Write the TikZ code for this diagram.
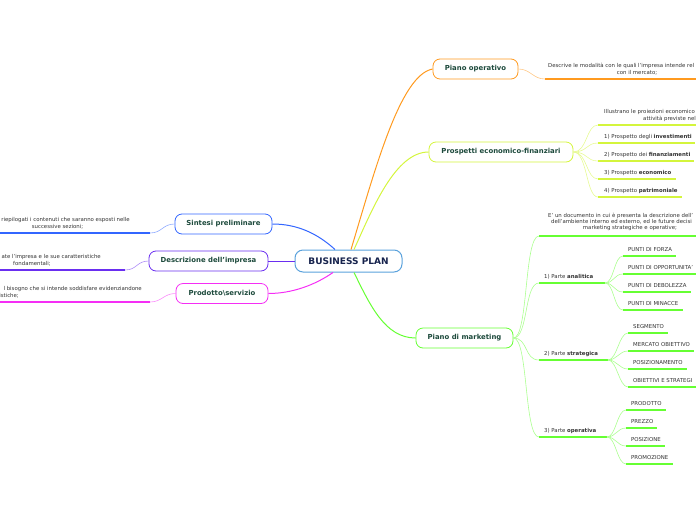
\documentclass[tikz,border=0pt]{standalone}
\usepackage{fontspec}
\setmainfont{DejaVu Sans}
\usetikzlibrary{positioning}
\definecolor{RootLine}{RGB}{90,162,220}
\definecolor{RootText}{RGB}{23,35,77}
\definecolor{TopicText}{RGB}{29,74,60}
\definecolor{LeafText}{RGB}{51,51,51}
\definecolor{OpOrange}{RGB}{255,154,31}
\definecolor{FinYellow}{RGB}{212,245,60}
\definecolor{MktGreen}{RGB}{102,255,51}
\definecolor{SinBlue}{RGB}{51,102,255}
\definecolor{DesPurple}{RGB}{106,46,240}
\definecolor{ProMagenta}{RGB}{245,46,245}

\begin{document}
\begin{tikzpicture}[x=1pt, y=-1pt,
	root/.style={draw=RootLine, line width=1pt, fill=white, rounded corners=8pt, minimum width=107pt, minimum height=22pt, inner sep=0pt, text=RootText, font=\fontsize{9}{10}\selectfont\bfseries},
	topic/.style={draw=#1, line width=0.8pt, fill=white, rounded corners=7pt, minimum height=20pt, inner xsep=6pt, inner ysep=0pt, text=TopicText, font=\fontsize{6.9}{8}\selectfont\bfseries},
	leaf/.style={inner sep=0pt, text=LeafText, font=\fontsize{5.4}{6}\selectfont},
	branch/.style={draw=#1, line width=1pt},
	twig/.style={draw=#1!55, line width=0.6pt},
	uline/.style={draw=#1, line width=1.5pt}
	]
		\useasboundingbox (0,0) rectangle (696,520);
		\clip (0,0) rectangle (696,520);
		
		% nodo centrale
		\node[root] (bp) at (348.5,261) {BUSINESS PLAN};
		
		% rami principali
		\node[topic=OpOrange, minimum width=85pt] (op) at (475.5,69) {Piano operativo};
		\node[topic=FinYellow, minimum width=144pt] (pef) at (501,152) {Prospetti economico-finanziari};
		\node[topic=MktGreen, minimum width=97pt] (pdm) at (464.5,338) {Piano di marketing};
		\node[topic=SinBlue, minimum width=97pt] (sp) at (223.5,224) {Sintesi preliminare};
		\node[topic=DesPurple, minimum width=119pt] (di) at (208.5,261) {Descrizione dell'impresa};
		\node[topic=ProMagenta, minimum width=92pt] (ps) at (222,293.5) {Prodotto\textbackslash servizio};
		
		\draw[branch=OpOrange] ([xshift=2.5pt]bp.north) .. controls (375,170) and (400,75) .. (op.west);
		\draw[branch=FinYellow] ([xshift=5.5pt]bp.north) .. controls (372,210) and (395,152) .. (pef.west);
		\draw[branch=MktGreen] ([xshift=5.5pt]bp.south) .. controls (370,305) and (385,338) .. (pdm.west);
		\draw[branch=SinBlue] ([xshift=-13.5pt]bp.north) .. controls (318,234) and (298,224) .. (sp.east);
		\draw[branch=DesPurple] (bp.west) -- (di.east);
		\draw[branch=ProMagenta] ([xshift=-15.5pt]bp.south) .. controls (315,285) and (292,293.5) .. (ps.east);
		
		% Piano operativo
		\coordinate (opl) at (545,79);
		\coordinate (opr) at (696,79);
		\node[leaf, anchor=base west] (op1) at (548,67) {Descrive le modalità con le quali l'impresa intende rel};
		\node[leaf, anchor=base] (op2) at (637,74) {con il mercato;};
		\draw[twig=OpOrange] (op.east) .. controls +(12,0) and +(-12,0) .. (opl);
		\draw[uline=OpOrange] (opl) -- (opr);
		
		% Prospetti economico-finanziari
		\coordinate (pefl) at (598,125);
		\coordinate (pefr) at (696,125);
		\coordinate (pl1) at (598,143);
		\coordinate (pl2) at (598,161);
		\coordinate (pl3) at (598,179);
		\coordinate (pl4) at (598,197);
		\node[leaf, anchor=base west] (pef1) at (604,113.5) {Illustrano le proiezioni economico};
		\node[leaf, anchor=base west] (pef2) at (643,120.5) {attività previste nel};
		\node[leaf, anchor=base west] (pi1) at (604,138) {1) Prospetto degli \textbf{investimenti}};
		\node[leaf, anchor=base west] (pi2) at (604,156) {2) Prospetto dei \textbf{finanziamenti}};
		\node[leaf, anchor=base west] (pi3) at (604,174) {3) Prospetto \textbf{economico}};
		\node[leaf, anchor=base west] (pi4) at (604,192) {4) Prospetto \textbf{patrimoniale}};
		\draw[twig=FinYellow] (pef.east) .. controls +(14,0) and +(-12,0) .. (pefl);
		\draw[twig=FinYellow] (pef.east) .. controls +(14,0) and +(-12,0) .. (pl1);
		\draw[twig=FinYellow] (pef.east) .. controls +(14,0) and +(-12,0) .. (pl2);
		\draw[twig=FinYellow] (pef.east) .. controls +(14,0) and +(-12,0) .. (pl3);
		\draw[twig=FinYellow] (pef.east) .. controls +(14,0) and +(-12,0) .. (pl4);
		\draw[uline=FinYellow] (pefl) -- (pefr);
		\draw[uline=FinYellow] (pl1) -- (pl1 -| pi1.east) -- ++(3,0);
		\draw[uline=FinYellow] (pl2) -- (pl2 -| pi2.east) -- ++(3,0);
		\draw[uline=FinYellow] (pl3) -- (pl3 -| pi3.east) -- ++(4,0);
		\draw[uline=FinYellow] (pl4) -- (pl4 -| pi4.east) -- ++(4,0);
		
		% Piano di marketing
		\coordinate (mkl) at (539,236);
		\coordinate (mkr) at (696,236);
		\coordinate (anl) at (539,283);
		\coordinate (anr) at (605,283);
		\coordinate (stl) at (539,360);
		\coordinate (str) at (608,360);
		\coordinate (otl) at (539,437);
		\coordinate (otr) at (607,437);
		\node[leaf, anchor=base west] (mk1) at (548,217.5) {E' un documento in cui è presenta la descrizione dell'};
		\node[leaf, anchor=base west] (mk2) at (551,223.5) {dell'ambiente interno ed esterno, ed le future decisi};
		\node[leaf, anchor=base] (mk3) at (630,229.5) {marketing strategiche e operative;};
		\node[leaf, anchor=base west] (an) at (544,278) {1) Parte \textbf{analitica}};
		\node[leaf, anchor=base west] (st) at (544,355.5) {2) Parte \textbf{strategica}};
		\node[leaf, anchor=base west] (ot) at (544,432.5) {3) Parte \textbf{operativa}};
		\draw[twig=MktGreen] (pdm.east) .. controls +(15,0) and +(-15,0) .. (mkl);
		\draw[twig=MktGreen] (pdm.east) .. controls +(15,0) and +(-15,0) .. (anl);
		\draw[twig=MktGreen] (pdm.east) .. controls +(15,0) and +(-15,0) .. (stl);
		\draw[twig=MktGreen] (pdm.east) .. controls +(15,0) and +(-15,0) .. (otl);
		\draw[uline=MktGreen] (mkl) -- (mkr);
		\draw[uline=MktGreen] (anl) -- (anr);
		\draw[uline=MktGreen] (stl) -- (str);
		\draw[uline=MktGreen] (otl) -- (otr);
		
		% parte analitica
		\coordinate (a1) at (623,256);
		\coordinate (a2) at (623,274);
		\coordinate (a3) at (623,292);
		\coordinate (a4) at (623,310);
		\node[leaf, anchor=base west] (pf) at (628,251) {PUNTI DI FORZA};
		\node[leaf, anchor=base west] (po) at (628,269) {PUNTI DI OPPORTUNITA'};
		\node[leaf, anchor=base west] (pd) at (628,287) {PUNTI DI DEBOLEZZA};
		\node[leaf, anchor=base west] (pm) at (628,305) {PUNTI DI MINACCE};
		\draw[twig=MktGreen] (anr) .. controls +(9,0) and +(-9,0) .. (a1);
		\draw[twig=MktGreen] (anr) .. controls +(9,0) and +(-9,0) .. (a2);
		\draw[twig=MktGreen] (anr) .. controls +(9,0) and +(-9,0) .. (a3);
		\draw[twig=MktGreen] (anr) .. controls +(9,0) and +(-9,0) .. (a4);
		\draw[uline=MktGreen] (a1) -- (a1 -| pf.east) -- ++(4,0);
		\draw[uline=MktGreen] (a2) -- (a2 -| po.east) -- ++(4,0);
		\draw[uline=MktGreen] (a3) -- (a3 -| pd.east) -- ++(4,0);
		\draw[uline=MktGreen] (a4) -- (a4 -| pm.east) -- ++(4,0);
		
		% parte strategica
		\coordinate (s1) at (628,333);
		\coordinate (s2) at (628,351);
		\coordinate (s3) at (628,369);
		\coordinate (s4) at (628,387);
		\node[leaf, anchor=base west] (seg) at (633,328) {SEGMENTO};
		\node[leaf, anchor=base west] (mob) at (633,346) {MERCATO OBIETTIVO};
		\node[leaf, anchor=base west] (pos) at (633,364) {POSIZIONAMENTO};
		\node[leaf, anchor=base west] (obs) at (633,382) {OBIETTIVI E STRATEGI};
		\draw[twig=MktGreen] (str) .. controls +(9,0) and +(-9,0) .. (s1);
		\draw[twig=MktGreen] (str) .. controls +(9,0) and +(-9,0) .. (s2);
		\draw[twig=MktGreen] (str) .. controls +(9,0) and +(-9,0) .. (s3);
		\draw[twig=MktGreen] (str) .. controls +(9,0) and +(-9,0) .. (s4);
		\draw[uline=MktGreen] (s1) -- (s1 -| seg.east) -- ++(4,0);
		\draw[uline=MktGreen] (s2) -- (s2 -| mob.east) -- ++(4,0);
		\draw[uline=MktGreen] (s3) -- (s3 -| pos.east) -- ++(4,0);
		\draw[uline=MktGreen] (s4) -- (s4 -| obs.east) -- ++(4,0);
		
		% parte operativa
		\coordinate (o1) at (626,410);
		\coordinate (o2) at (626,428);
		\coordinate (o3) at (626,446);
		\coordinate (o4) at (626,464);
		\node[leaf, anchor=base west] (pro) at (631,405) {PRODOTTO};
		\node[leaf, anchor=base west] (pre) at (631,423) {PREZZO};
		\node[leaf, anchor=base west] (psz) at (631,441) {POSIZIONE};
		\node[leaf, anchor=base west] (prm) at (631,459) {PROMOZIONE};
		\draw[twig=MktGreen] (otr) .. controls +(9,0) and +(-9,0) .. (o1);
		\draw[twig=MktGreen] (otr) .. controls +(9,0) and +(-9,0) .. (o2);
		\draw[twig=MktGreen] (otr) .. controls +(9,0) and +(-9,0) .. (o3);
		\draw[twig=MktGreen] (otr) .. controls +(9,0) and +(-9,0) .. (o4);
		\draw[uline=MktGreen] (o1) -- (o1 -| pro.east) -- ++(4,0);
		\draw[uline=MktGreen] (o2) -- (o2 -| pre.east) -- ++(4,0);
		\draw[uline=MktGreen] (o3) -- (o3 -| psz.east) -- ++(4,0);
		\draw[uline=MktGreen] (o4) -- (o4 -| prm.east) -- ++(4,0);
		
		% rami a sinistra
		\coordinate (spl) at (150,233);
		\coordinate (spz) at (0,233);
		\coordinate (dil) at (125,270);
		\coordinate (diz) at (0,270);
		\coordinate (psl) at (150,302);
		\coordinate (psz0) at (0,302);
		\node[leaf, anchor=base east] (sp1) at (130,221.5) {riepilogati i contenuti che saranno esposti nelle};
		\node[leaf, anchor=base] (sp2) at (57.5,228) {successive sezioni;};
		\node[leaf, anchor=base east] (di1) at (101,258.8) {ate l'impresa e le sue caratteristiche};
		\node[leaf, anchor=base] (di2) at (32,265.5) {fondamentali;};
		\node[leaf, anchor=base east] (ps1) at (142,290.5) {l bisogno che si intende soddisfare evidenziandone};
		\node[leaf, anchor=base east] (ps2) at (19,297.5) {istiche;};
		\draw[twig=SinBlue] (sp.west) .. controls +(-12,0) and +(12,0) .. (spl);
		\draw[twig=DesPurple] (di.west) .. controls +(-12,0) and +(12,0) .. (dil);
		\draw[twig=ProMagenta] (ps.west) .. controls +(-12,0) and +(12,0) .. (psl);
		\draw[uline=SinBlue] (spl) -- (spz);
		\draw[uline=DesPurple] (dil) -- (diz);
		\draw[uline=ProMagenta] (psl) -- (psz0);
	\end{tikzpicture}
\end{document}
